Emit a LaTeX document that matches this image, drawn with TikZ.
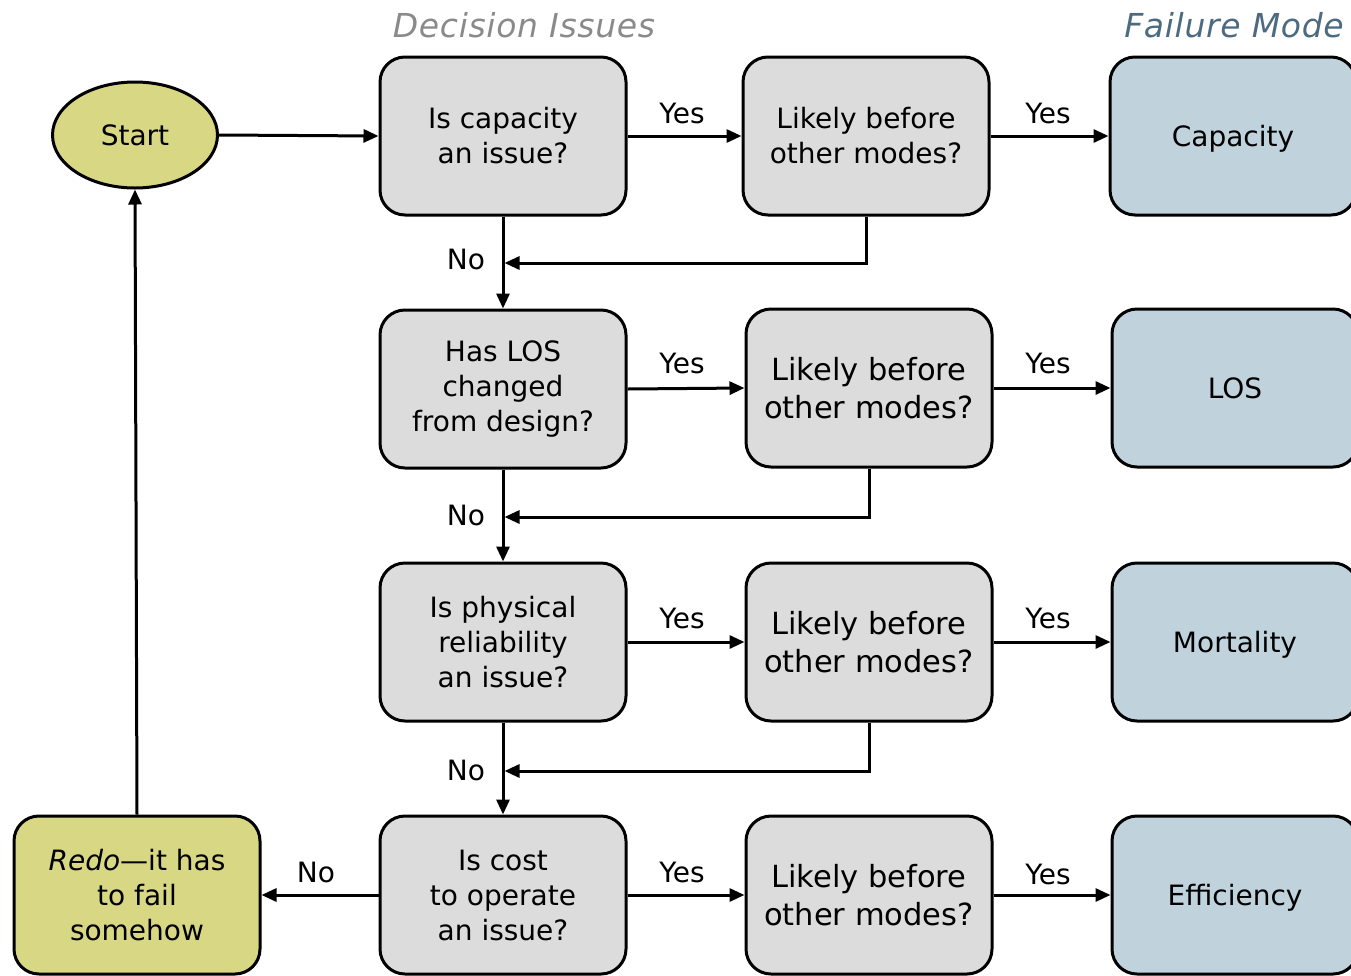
\documentclass[tikz,border=0pt]{standalone}
\usepackage{fontspec}
\setmainfont{DejaVu Sans}
\usetikzlibrary{arrows.meta,shapes.geometric}
\definecolor{boxgray}{HTML}{DCDCDC}
\definecolor{boxblue}{HTML}{C0D3DD}
\definecolor{boxyellow}{HTML}{D8D784}
\definecolor{hdrgray}{HTML}{8A8A8A}
\definecolor{hdrblue}{HTML}{4D6B80}
\begin{document}
\begin{tikzpicture}[x=1pt,y=-1pt,
  box/.style={draw, line width=3pt, rounded corners=25pt, minimum width=246pt, minimum height=158pt, align=center, inner sep=0pt, font=\fontsize{28}{35}\selectfont},
  q/.style={box, fill=boxgray},
  lk/.style={box, fill=boxgray, font=\fontsize{30.5}{38}\selectfont},
  fm/.style={box, fill=boxblue, text height=20.4pt, text depth=0pt},
  arr/.style={line width=3pt, -{Triangle[length=15pt,width=13pt]}},
  ln/.style={line width=3pt},
  lbl/.style={font=\fontsize{28}{35}\selectfont},
  hdr/.style={font=\fontsize{33}{40}\selectfont\itshape\addfontfeature{LetterSpace=2}}]
\useasboundingbox (0,0) rectangle (1351,975);
\clip (0,0) rectangle (1351,975);
% headers
\node[hdr, text=hdrgray] (h1) at (524,25) {Decision Issues};
\node[hdr, text=hdrblue] (h2) at (1234,25) {Failure Mode};
% start
\node[draw, ellipse, line width=3pt, fill=boxyellow, minimum width=165pt, minimum height=106pt, font=\fontsize{28}{35}\selectfont] (start) at (135,135) {Start};
% column 1
\node[q] (q1) at (503,136) {Is capacity\\an issue?};
\node[q] (q2) at (503,389) {Has LOS\\changed\\from design?};
\node[q] (q3) at (503,642) {Is physical\\reliability\\an issue?};
\node[q] (q4) at (503,895) {Is cost\\to operate\\an issue?};
% column 2
\node[q] (l1) at (866,136) {Likely before\\other modes?};
\node[lk] (l2) at (869,388) {Likely before\\other modes?};
\node[lk] (l3) at (869,642) {Likely before\\other modes?};
\node[lk] (l4) at (869,895) {Likely before\\other modes?};
% column 3
\node[fm] (f1) at (1233,136) {Capacity};
\node[fm] (f2) at (1235,388) {LOS};
\node[fm] (f3) at (1235,642) {Mortality};
\node[fm] (f4) at (1235,895) {Efficiency};
% redo
\node[box, fill=boxyellow] (redo) at (137,895) {\textit{Redo}—it has\\to fail\\somehow};
% coordinates for returns
\coordinate (m1) at (503,263);
\coordinate (m2) at (503,517);
\coordinate (m3) at (503,771);
% arrows
\draw[arr] (start.east) -- (q1.west);
\draw[arr] (q1.east) -- (l1.west);
\draw[arr] (l1.east) -- (f1.west);
\draw[arr] (q2.east) -- (l2.west);
\draw[arr] (l2.east) -- (f2.west);
\draw[arr] (q3.east) -- (l3.west);
\draw[arr] (l3.east) -- (f3.west);
\draw[arr] (q4.east) -- (l4.west);
\draw[arr] (l4.east) -- (f4.west);
\draw[arr] (q1.south) -- (q2.north);
\draw[arr] (q2.south) -- (q3.north);
\draw[arr] (q3.south) -- (q4.north);
\draw[arr, shorten >=1.5pt] (l1.south) |- (m1);
\draw[arr, shorten >=1.5pt] (l2.south) |- (m2);
\draw[arr, shorten >=1.5pt] (l3.south) |- (m3);
\draw[arr] (q4.west) -- (redo.east);
\draw[arr] (redo.north) -- (start.south);
% labels
\node[lbl] (y1a) at (682,113) {Yes};
\node[lbl] (y1b) at (1048,113) {Yes};
\node[lbl] (y2a) at (682,363) {Yes};
\node[lbl] (y2b) at (1048,363) {Yes};
\node[lbl] (y3a) at (682,618) {Yes};
\node[lbl] (y3b) at (1048,618) {Yes};
\node[lbl] (y4a) at (682,872) {Yes};
\node[lbl] (y4b) at (1048,874) {Yes};
\node[lbl] (n1) at (466,259) {No};
\node[lbl] (n2) at (466,515) {No};
\node[lbl] (n3) at (466,770) {No};
\node[lbl] (n4) at (316,872) {No};
\end{tikzpicture}
\end{document}
